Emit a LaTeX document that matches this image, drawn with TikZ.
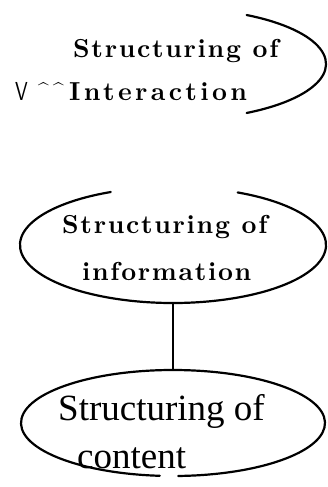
\documentclass[tikz,border=0pt]{standalone}
\usepackage{fontspec}
\usepackage{graphicx}
\newfontfamily\tms{Liberation Serif}
\newfontfamily\lmb{lmroman10-bold.otf}[LetterSpace=6.5]
\newfontfamily\lmbw{lmroman10-bold.otf}[LetterSpace=13]
\usetikzlibrary{shapes.geometric}
\tikzset{
  outline/.style={line width=2.2pt, line cap=round},
  blob/.style={ellipse, inner sep=0pt},
  boldtxt/.style={anchor=base west, inner sep=0pt, font=\fontsize{26}{30}\lmb},
  plaintxt/.style={anchor=base west, inner sep=0pt, font=\fontsize{37}{44}\tms},
  thintxt/.style={anchor=base west, inner sep=0pt, font=\sffamily},
}
\begin{document}
\begin{tikzpicture}[x=1pt,y=-1pt]
\useasboundingbox (0,0) rectangle (327,487);
% ellipse nodes (outlines drawn as arcs below)
\node[blob, minimum width=308pt, minimum height=112pt] (inter) at (172,64) {};
\node[blob, minimum width=306pt, minimum height=116pt] (info) at (173,245) {};
\node[blob, minimum width=304pt, minimum height=106pt] (cont) at (173,423) {};
% outlines
\draw[outline] (inter.center) ++(-61:154 and 56) arc[start angle=-61, end angle=61, x radius=154, y radius=56];
\draw[outline] (info.center) ++(-65:153 and 58) arc[start angle=-65, end angle=246, x radius=153, y radius=58];
\draw[outline] (cont.center) ++(95:152 and 53) arc[start angle=95, end angle=448, x radius=152, y radius=53];
% connector
\draw[line width=1.8pt] (info.south) -- (cont.north);
% texts
\node[boldtxt] (t1) at (73,57) {Structuring of};
\node[thintxt, font=\fontsize{26}{30}\sffamily] (v) at (15,100) {\scalebox{0.78}[1]{V}};
\node[thintxt, font=\fontsize{19}{22}\sffamily] (c1) at (38,96.5) {\^{}};
\node[thintxt, font=\fontsize{19}{22}\sffamily] (c2) at (53,96.5) {\^{}};
\node[boldtxt, font=\fontsize{26}{30}\lmbw] (t2) at (69,100) {Interaction};
\node[boldtxt] (t3) at (62,233) {Structuring of};
\node[boldtxt] (t4) at (82,280) {information};
\node[plaintxt] (t5) at (58,420) {Structuring of};
\node[plaintxt] (t6) at (77,468) {content};
\end{tikzpicture}
\end{document}
